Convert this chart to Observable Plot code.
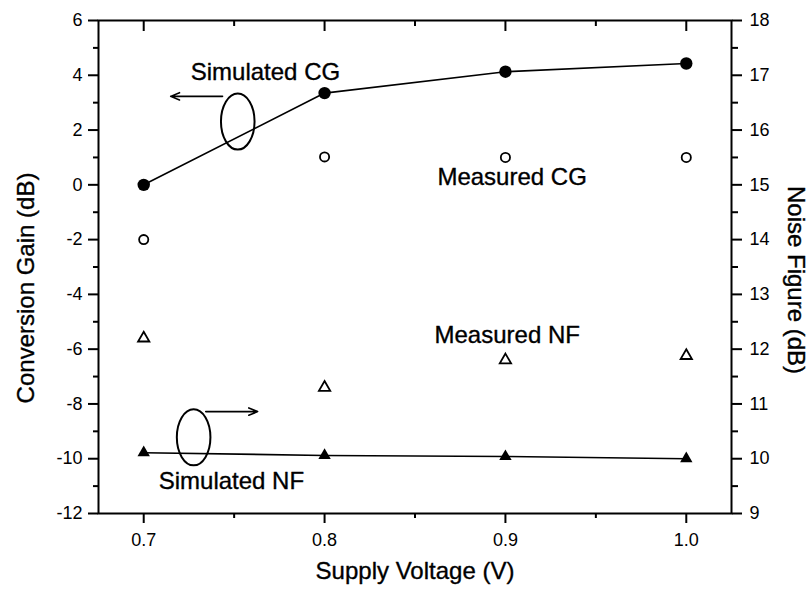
<!DOCTYPE html>
<html><head><meta charset="utf-8">
<script src="https://cdn.jsdelivr.net/npm/d3@7"></script>
<script src="https://cdn.jsdelivr.net/npm/@observablehq/plot@0.6"></script>
<style>
  html, body { margin: 0; padding: 0; background: #fff; }
  #chart svg { display: block; }
</style>
</head><body><div id="chart"></div>
<script>
// ---- data ----
const voltage = [0.7, 0.8, 0.9, 1.0];
const simCG  = [0.0, 3.35, 4.13, 4.43];
const measCG = [-2.0, 1.02, 1.0, 1.0];
const simNF  = [10.11, 10.06, 10.04, 10.0];
const measNF = [12.2, 11.3, 11.8, 11.88];

const xTicks  = [0.7, 0.8, 0.9, 1.0];
const xMinor  = [0.75, 0.85, 0.95];
const cgTicks = [-12, -10, -8, -6, -4, -2, 0, 2, 4, 6];
const cgMinor = [-11, -9, -7, -5, -3, -1, 1, 3, 5];
const nfTicks = [9, 10, 11, 12, 13, 14, 15, 16, 17, 18];
const nfMinor = [9.5, 10.5, 11.5, 12.5, 13.5, 14.5, 15.5, 16.5, 17.5];
const xDomain  = [0.675, 1.025];
const cgDomain = [-12, 6];
const nfDomain = [9, 18];

const xTitle = "Supply Voltage (V)";
const yLeftTitle = "Conversion Gain (dB)";
const yRightTitle = "Noise Figure (dB)";

// annotations (in data units: volts, dB of conversion gain)
const labels = [
  {text: "Simulated CG", x: 0.726, y: 3.81},
  {text: "Measured CG",  x: 0.8624, y: 0.01},
  {text: "Measured NF",  x: 0.8608, y: -5.76},
  {text: "Simulated NF", x: 0.7083, y: -11.09}
];
const ellipses = [{x: 0.752, y: 2.31}, {x: 0.7276, y: -9.22}];
const arrows = [
  {x1: 0.7436, x2: 0.7149, y: 3.23},
  {x1: 0.7343, x2: 0.7630, y: -8.28}
];

// ---- helpers ----
const k = (cgDomain[1] - cgDomain[0]) / (nfDomain[1] - nfDomain[0]);
const nfToCG = v => cgDomain[0] + (v - nfDomain[0]) * k;
const cgToNF = v => nfDomain[0] + (v - cgDomain[0]) / k;

const simCGData  = voltage.map((v, i) => ({v, y: simCG[i]}));
const measCGData = voltage.map((v, i) => ({v, y: measCG[i]}));
const simNFData  = voltage.map((v, i) => ({v, y: nfToCG(simNF[i])}));
const measNFData = voltage.map((v, i) => ({v, y: nfToCG(measNF[i])}));

const ellipseSymbol = {
  draw(ctx, size) {
    const r = Math.sqrt(size / Math.PI);
    const ry = r, rx = r * 0.6, c = 0.5523;
    ctx.moveTo(rx, 0);
    ctx.bezierCurveTo(rx, c * ry, c * rx, ry, 0, ry);
    ctx.bezierCurveTo(-c * rx, ry, -rx, c * ry, -rx, 0);
    ctx.bezierCurveTo(-rx, -c * ry, -c * rx, -ry, 0, -ry);
    ctx.bezierCurveTo(c * rx, -ry, rx, -c * ry, rx, 0);
    ctx.closePath();
  }
};

const font = "'Liberation Sans', Arial, Helvetica, sans-serif";
const blank = () => "";
const textStyle = {fontSize: 24, fill: "#000", stroke: "#000", strokeWidth: 0.35};

const chart = Plot.plot({
  width: 809,
  height: 592,
  marginLeft: 98,
  marginRight: 78,
  marginTop: 20,
  marginBottom: 79,
  style: {fontFamily: font, fontSize: "18px", color: "#000", background: "#fff"},
  x: {domain: xDomain, axis: null},
  y: {domain: cgDomain, axis: null},
  marks: [
    // bottom axis
    Plot.axisX(xTicks, {anchor: "bottom", label: null, tickSize: 10, tickPadding: 10, strokeWidth: 2, fontSize: 18, tickFormat: d => d.toFixed(1)}),
    Plot.axisX(xMinor, {anchor: "bottom", label: null, tickSize: 5, strokeWidth: 2, tickFormat: blank}),
    // top axis (inward ticks)
    Plot.axisX(xTicks, {anchor: "top", label: null, tickSize: 10, dy: 10, strokeWidth: 2, tickFormat: blank}),
    Plot.axisX(xMinor, {anchor: "top", label: null, tickSize: 5, dy: 5, strokeWidth: 2, tickFormat: blank}),
    // left axis
    Plot.axisY(cgTicks, {anchor: "left", label: null, tickSize: 10, tickPadding: 6, strokeWidth: 2, fontSize: 18, tickFormat: d => String(d)}),
    Plot.axisY(cgMinor, {anchor: "left", label: null, tickSize: 5, strokeWidth: 2, tickFormat: blank}),
    // right axis (noise figure)
    Plot.axisY(nfTicks.map(nfToCG), {anchor: "right", label: null, tickSize: 10, tickPadding: 8, strokeWidth: 2, fontSize: 18,
      tickFormat: d => String(Math.round(cgToNF(d) * 100) / 100)}),
    Plot.axisY(nfMinor.map(nfToCG), {anchor: "right", label: null, tickSize: 6, strokeWidth: 2, tickFormat: blank}),
    Plot.frame({stroke: "#000", strokeWidth: 2}),

    // axis titles
    Plot.text([xTitle], {frameAnchor: "bottom", textAnchor: "middle", dy: 65, lineAnchor: "bottom", ...textStyle}),
    Plot.text([yLeftTitle], {frameAnchor: "left", textAnchor: "middle", rotate: -90, dx: -72, dy: 21, lineAnchor: "middle", ...textStyle}),
    Plot.text([yRightTitle], {frameAnchor: "right", textAnchor: "middle", rotate: 90, dx: 64, dy: 13, lineAnchor: "middle", ...textStyle}),

    // simulated CG
    Plot.line(simCGData, {x: "v", y: "y", stroke: "#000", strokeWidth: 1.6}),
    Plot.dot(simCGData, {x: "v", y: "y", r: 6.2, fill: "#000", stroke: "none"}),
    // measured CG
    Plot.dot(measCGData, {x: "v", y: "y", r: 4.6, fill: "#fff", stroke: "#000", strokeWidth: 1.8}),
    // simulated NF
    Plot.line(simNFData, {x: "v", y: "y", stroke: "#000", strokeWidth: 1.6}),
    Plot.dot(simNFData, {x: "v", y: "y", r: 4.6, symbol: "triangle", fill: "#000", stroke: "none"}),
    // measured NF
    Plot.dot(measNFData, {x: "v", y: "y", r: 4.2, symbol: "triangle", fill: "#fff", stroke: "#000", strokeWidth: 1.8}),

    // annotations
    Plot.dot(ellipses, {x: "x", y: "y", r: 28, symbol: ellipseSymbol, fill: "none", stroke: "#000", strokeWidth: 2}),
    Plot.arrow(arrows, {x1: "x1", x2: "x2", y1: "y", y2: "y", stroke: "#000", strokeWidth: 1.6, headLength: 9, headAngle: 45}),
    Plot.text(labels, {x: "x", y: "y", text: "text", textAnchor: "start", lineAnchor: "bottom", ...textStyle})
  ]
});
document.getElementById("chart").appendChild(chart);
</script>
</body></html>
